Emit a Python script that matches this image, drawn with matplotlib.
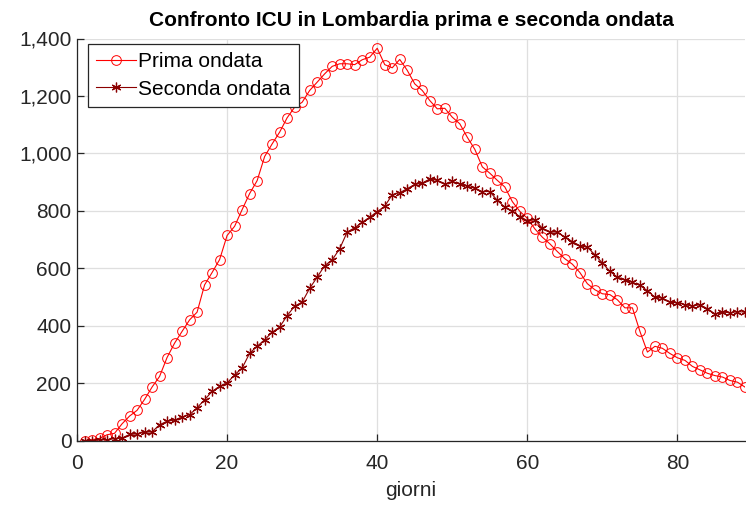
import numpy as np
import matplotlib
matplotlib.use('Agg')
import matplotlib.pyplot as plt
from matplotlib.ticker import StrMethodFormatter

plt.rcParams['font.family'] = ['Liberation Sans', 'DejaVu Sans']

# ICU occupancy per day
giorni = np.arange(1, 90)
prima = [0, 3, 7, 20, 25, 58, 85, 105, 143, 186,
         223, 289, 339, 380, 420, 447, 542, 585, 630, 714,
         746, 804, 860, 905, 989, 1033, 1074, 1124, 1161, 1178,
         1219, 1248, 1277, 1303, 1312, 1312, 1309, 1326, 1335, 1366,
         1309, 1298, 1327, 1289, 1242, 1219, 1184, 1155, 1157, 1126,
         1103, 1056, 1014, 953, 931, 906, 883, 832, 798, 774,
         737, 708, 685, 658, 633, 614, 585, 546, 525, 511,
         508, 490, 462, 462, 380, 308, 328, 321, 303, 288,
         279, 258, 246, 234, 226, 221, 209, 203, 186]
seconda = [0, 0, 2, 3, 6, 8, 21, 23, 29, 30,
           55, 67, 71, 81, 90, 114, 142, 171, 189, 200,
           229, 252, 304, 328, 351, 377, 395, 435, 468, 482,
           530, 569, 609, 629, 668, 726, 741, 760, 778, 797,
           816, 856, 863, 877, 892, 896, 911, 906, 892, 902,
           894, 886, 878, 867, 867, 836, 813, 798, 780, 766,
           769, 739, 726, 726, 708, 693, 678, 673, 647, 618,
           589, 569, 560, 551, 540, 522, 499, 496, 481, 480,
           473, 468, 473, 459, 441, 447, 445, 449, 447]

W, H = 746, 505
fig = plt.figure(figsize=(W / 100, H / 100), dpi=100)
ax = fig.add_axes([77 / W, (H - 440.5) / H, (745 - 77) / W, 402 / H])

ax.plot(giorni, prima, color='red', lw=0.8, marker='o', ms=7,
        mfc='none', mec='red', mew=0.7, label='Prima ondata')
ax.plot(giorni, seconda, color='#8b0000', lw=0.8, marker=(6, 2, 0), ms=7,
        mec='#8b0000', mew=0.9, label='Seconda ondata')

ax.set_xlim(0, 89)
ax.set_ylim(0, 1400)
ax.set_xticks([0, 20, 40, 60, 80])
ax.set_yticks(np.arange(0, 1401, 200))
ax.yaxis.set_major_formatter(StrMethodFormatter('{x:,.0f}'))

ax.grid(True, color='#dfdfdf', lw=0.9)
ax.set_axisbelow(True)
for s in ['top', 'right']:
    ax.spines[s].set_visible(False)
for s in ['left', 'bottom']:
    ax.spines[s].set_color('#262626')
    ax.spines[s].set_linewidth(0.9)
ax.tick_params(direction='in', length=5, width=0.9, colors='#262626',
               labelsize=15)
ax.tick_params(axis='x', pad=10)
ax.tick_params(axis='y', pad=4)

ax.set_xlabel('giorni', fontsize=15, color='#262626', labelpad=5.5)
fig.text(411 / W, 1 - 20 / H, 'Confronto ICU in Lombardia prima e seconda ondata',
         ha='center', va='center', fontsize=15, fontweight='bold')

leg = ax.legend(loc='upper left', bbox_to_anchor=(11 / 668, 1 - 5.5 / 402),
                borderaxespad=0, fontsize=15, frameon=True, fancybox=False,
                edgecolor='#262626', framealpha=1, handlelength=1.9,
                handletextpad=0.1, borderpad=0.4, labelspacing=0.4)
leg.get_frame().set_linewidth(0.9)

fig.savefig('out.png', dpi=100)
